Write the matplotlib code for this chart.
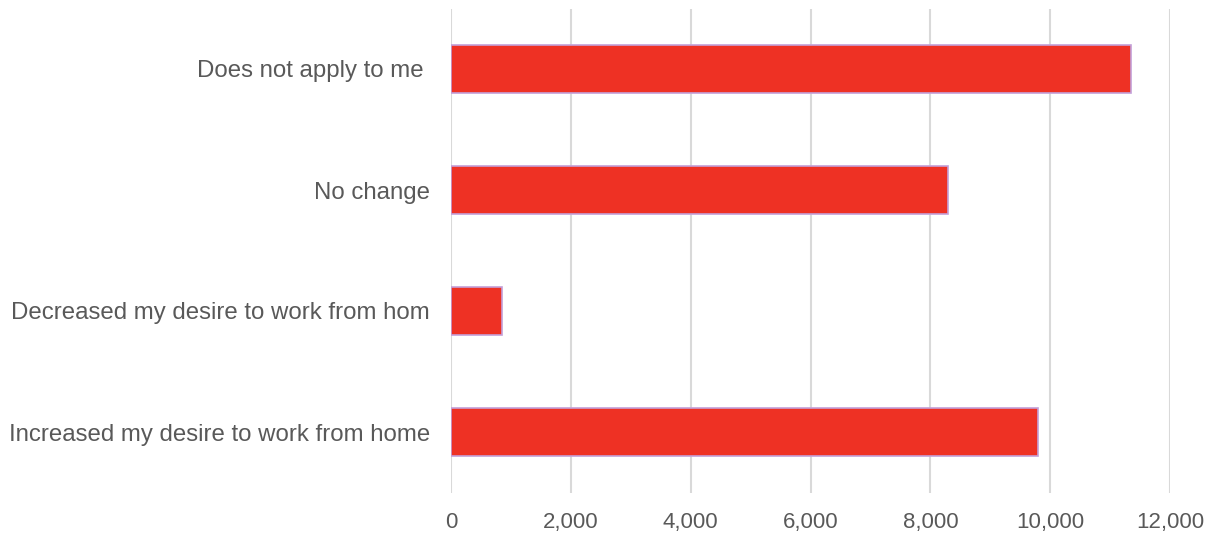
import matplotlib
matplotlib.use("Agg")
import matplotlib.pyplot as plt
from matplotlib.ticker import FuncFormatter

categories = ["Increased my desire to work from home",
              "Decreased my desire to work from hom",
              "No change",
              "Does not apply to me "]
counts = [9800, 850, 8300, 11350]
xticks = [0, 2000, 4000, 6000, 8000, 10000, 12000]

plt.rcParams['font.family'] = ['Liberation Sans', 'DejaVu Sans']

fig = plt.figure(figsize=(12.12, 5.36), dpi=100)
ax = fig.add_axes([451 / 1212, 43.5 / 536, 719 / 1212, 484 / 536])

ax.barh(range(len(categories)), counts, height=0.4, color='#EE3124',
        edgecolor='#C3A0D8', linewidth=1.2, zorder=3)

ax.set_xlim(0, 12000)
ax.set_ylim(-0.5, len(categories) - 0.5)
ax.set_xticks(xticks)
ax.xaxis.set_major_formatter(FuncFormatter(lambda v, p: f"{int(v):,}"))
ax.set_yticks(range(len(categories)))
ax.set_yticklabels(categories)

ax.grid(axis='x', color='#D9D9D9', linewidth=1.5, zorder=0)
for s in ax.spines.values():
    s.set_visible(False)
ax.tick_params(axis='both', length=0, colors='#595959')
ax.tick_params(axis='y', pad=15, labelsize=17.3)
ax.tick_params(axis='x', pad=14, labelsize=16)

fig.savefig("out.png", dpi=100)
